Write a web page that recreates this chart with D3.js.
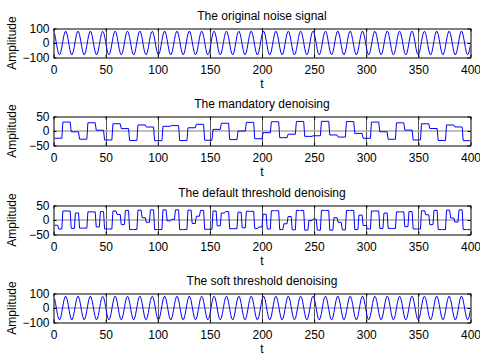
<!DOCTYPE html>
<html>
<head>
<meta charset="utf-8">
<script src="https://cdn.jsdelivr.net/npm/d3@7/dist/d3.min.js"></script>
<style>
  body { margin: 0; background: #fff; }
  text { font-family: "Liberation Sans", Arial, sans-serif; }
</style>
</head>
<body>
<div id="chart"></div>
<script>
const sampleCount = 400;
const xTicks = [0, 50, 100, 150, 200, 250, 300, 350, 400];
const panelTitles = [
  "The original noise signal",
  "The mandatory denoising",
  "The default threshold denoising",
  "The soft threshold denoising"
];
const wideTicks = [-100, 0, 100];
const narrowTicks = [-50, 0, 50];

// samples t = 1..400
const noisySignal = [
  65,31,-12,-51,-76,-81,-63,-28,14,53,77,80,
  61,26,-17,-55,-78,-80,-59,-23,20,57,79,79,
  57,20,-23,-59,-80,-78,-55,-17,26,61,80,77,
  53,14,-28,-63,-81,-76,-51,-12,31,65,81,75,
  49,9,-34,-67,-82,-74,-46,-6,36,68,82,73,
  44,3,-39,-70,-82,-71,-41,0,41,72,82,70,
  39,-3,-44,-73,-82,-68,-36,6,46,74,82,67,
  34,-9,-49,-75,-81,-65,-31,12,51,76,81,63,
  28,-14,-53,-77,-80,-61,-26,17,55,78,80,59,
  23,-20,-58,-79,-79,-57,-20,23,60,80,78,55,
  17,-26,-62,-80,-77,-53,-14,28,63,81,76,51,
  11,-31,-65,-81,-75,-49,-9,34,67,82,74,46,
  6,-36,-69,-82,-73,-44,-3,39,70,82,71,41,
  0,-42,-72,-82,-70,-39,3,44,73,82,68,36,
  -6,-46,-74,-82,-67,-34,9,49,75,81,65,31,
  -12,-51,-77,-81,-63,-28,15,53,78,80,61,25,
  -17,-56,-78,-80,-59,-23,20,58,79,79,57,20,
  -23,-60,-80,-78,-55,-17,26,62,81,77,53,14,
  -29,-63,-81,-76,-51,-11,31,65,81,75,48,8,
  -34,-67,-82,-74,-46,-6,37,69,82,73,44,3,
  -39,-70,-82,-71,-41,0,42,72,82,70,39,-3,
  -44,-73,-82,-68,-36,6,47,74,82,67,33,-9,
  -49,-75,-81,-65,-31,12,51,77,81,63,28,-15,
  -53,-78,-80,-61,-25,18,56,78,80,59,23,-20,
  -58,-79,-79,-57,-20,23,60,80,78,55,17,-26,
  -62,-81,-77,-53,-14,29,64,81,76,51,11,-31,
  -65,-81,-75,-48,-8,34,67,82,74,46,5,-37,
  -69,-82,-73,-44,-2,39,70,82,71,41,0,-42,
  -72,-82,-70,-39,3,44,73,82,68,36,-6,-47,
  -74,-82,-67,-33,9,49,76,81,65,31,-12,-51,
  -77,-81,-63,-28,15,54,78,80,61,25,-18,-56,
  -78,-80,-59,-22,21,58,79,79,57,20,-23,-60,
  -80,-78,-55,-17,26,62,81,77,53,14,-29,-64,
  -81,-76,-51,-11
];

// one value per block of 8 samples
const mandatoryBlocks = [
  -24.9, 30.9, -2.9, -28.3, 28.4, 2.8, -30.9, 25.0, 8.4, -32.5,
  20.9, 13.7, -33.3, 16.2, 18.7, -33.0, 11.1, 23.1, -31.8, 5.6,
  26.8, -29.7, -0.1, 29.8, -26.7, -5.7, 31.9, -23.0, -11.2, 33.0,
  -18.5, -16.4, 33.3, -13.6, -21.0, 32.5, -8.2, -25.1, 30.8, -2.6,
  -28.5, 28.2, 3.0, -31.0, 24.8, 8.6, -32.6, 20.7, 14.0, -33.3
];

// one value per block of 4 samples
const defaultHalves = [
  -18, -31, 31, 31, -29, 24, -28, -28, 28, 28,
  -24, 29, -31, -31, 31, 19, -16, 33, -33, -33,
  34, 8, -8, 35, -33, -33, 35, -3, 2, 35,
  -33, -33, 34, -12, 13, 33, -32, -32, 31, -20,
  24, 29, -30, -30, 27, -27, 30, 30, -29, -24,
  20, -31, 32, 32, -33, -13, 12, -34, 33, 33,
  -35, -2, 3, -35, 33, 33, -35, 8, -8, -34,
  33, 33, -33, 17, -19, -31, 31, 31, -29, 24,
  -29, -29, 28, 28, -23, 29, -31, -31, 32, 18,
  -16, 33, -33, -33, 34, 7, -7, 35, -33, -33
];

const softSignal = [
  65,31,-12,-51,-76,-81,-63,-28,14,53,77,80,
  61,26,-17,-55,-78,-80,-59,-23,20,57,79,79,
  57,20,-23,-59,-80,-78,-55,-17,26,61,80,77,
  53,14,-28,-63,-81,-76,-51,-12,31,65,81,75,
  49,9,-34,-67,-82,-74,-46,-6,36,68,82,73,
  44,3,-39,-70,-82,-71,-41,0,41,72,82,70,
  39,-3,-44,-73,-82,-68,-36,6,46,74,82,67,
  34,-9,-49,-75,-81,-65,-31,12,51,76,81,63,
  28,-14,-53,-77,-80,-61,-26,17,55,78,80,59,
  23,-20,-58,-79,-79,-57,-20,23,60,80,78,55,
  17,-26,-62,-80,-77,-53,-14,28,63,81,76,51,
  11,-31,-65,-81,-75,-49,-9,34,67,82,74,46,
  6,-36,-69,-82,-73,-44,-3,39,70,82,71,41,
  0,-42,-72,-82,-70,-39,3,44,73,82,68,36,
  -6,-46,-74,-82,-67,-34,9,49,75,81,65,31,
  -12,-51,-77,-81,-63,-28,15,53,78,80,61,25,
  -17,-56,-78,-80,-59,-23,20,58,79,79,57,20,
  -23,-60,-80,-78,-55,-17,26,62,81,77,53,14,
  -29,-63,-81,-76,-51,-11,31,65,81,75,48,8,
  -34,-67,-82,-74,-46,-6,37,69,82,73,44,3,
  -39,-70,-82,-71,-41,0,42,72,82,70,39,-3,
  -44,-73,-82,-68,-36,6,47,74,82,67,33,-9,
  -49,-75,-81,-65,-31,12,51,77,81,63,28,-15,
  -53,-78,-80,-61,-25,18,56,78,80,59,23,-20,
  -58,-79,-79,-57,-20,23,60,80,78,55,17,-26,
  -62,-81,-77,-53,-14,29,64,81,76,51,11,-31,
  -65,-81,-75,-48,-8,34,67,82,74,46,5,-37,
  -69,-82,-73,-44,-2,39,70,82,71,41,0,-42,
  -72,-82,-70,-39,3,44,73,82,68,36,-6,-47,
  -74,-82,-67,-33,9,49,76,81,65,31,-12,-51,
  -77,-81,-63,-28,15,54,78,80,61,25,-18,-56,
  -78,-80,-59,-22,21,58,79,79,57,20,-23,-60,
  -80,-78,-55,-17,26,62,81,77,53,14,-29,-64,
  -81,-76,-51,-11
];

const width = 480, height = 355;
const plotLeft = 53.5, plotRight = 470.5;
const panelTops = [28.5, 116.5, 205.5, 293.5];
const panelHeight = 29;

// turn the arrays into [t, value] points
const samplePoints = arr => arr.map((v, i) => [i + 1, v]);
const blockPoints = (arr, size) => arr.flatMap((v, k) => [[k * size + 1, v], [k * size + size, v]]);

const panels = [
  { title: panelTitles[0], ticks: wideTicks, points: samplePoints(noisySignal) },
  { title: panelTitles[1], ticks: narrowTicks, points: blockPoints(mandatoryBlocks, 8) },
  { title: panelTitles[2], ticks: narrowTicks, points: blockPoints(defaultHalves, 4) },
  { title: panelTitles[3], ticks: wideTicks, points: samplePoints(softSignal) }
];

const svg = d3.select("#chart").append("svg")
  .attr("width", width)
  .attr("height", height);

const x = d3.scaleLinear().domain([0, sampleCount]).range([plotLeft, plotRight]);

panels.forEach((p, i) => {
  const top = panelTops[i];
  const bottom = top + panelHeight;
  const y = d3.scaleLinear()
    .domain([p.ticks[0], p.ticks[p.ticks.length - 1]])
    .range([bottom, top]);

  const g = svg.append("g");

  svg.append("clipPath").attr("id", "clip" + i)
    .append("rect")
    .attr("x", plotLeft).attr("y", top)
    .attr("width", plotRight - plotLeft).attr("height", panelHeight);

  // vertical grid at the inner x ticks
  g.selectAll(".vgrid")
    .data(xTicks.slice(1, -1))
    .enter().append("line")
    .attr("x1", d => Math.round(x(d)) + 0.5).attr("x2", d => Math.round(x(d)) + 0.5)
    .attr("y1", top).attr("y2", bottom)
    .attr("stroke", "#555")
    .attr("stroke-width", 1);

  // zero line
  g.append("line")
    .attr("x1", plotLeft).attr("x2", plotRight)
    .attr("y1", y(0)).attr("y2", y(0))
    .attr("stroke", "#aaa")
    .attr("stroke-width", 1.5);

  const line = d3.line().x(d => x(d[0])).y(d => y(d[1]));
  g.append("path")
    .datum(p.points)
    .attr("clip-path", `url(#clip${i})`)
    .attr("fill", "none")
    .attr("stroke", "#0000ff")
    .attr("stroke-width", 1)
    .attr("d", line);

  // axes, ticks pointing inward
  const bottomAxis = d3.axisBottom(x).tickValues(xTicks).tickSizeInner(-3).tickSizeOuter(0).tickPadding(8);
  const topAxis = d3.axisTop(x).tickValues(xTicks).tickSizeInner(-3).tickSizeOuter(0).tickFormat("");
  const leftAxis = d3.axisLeft(y).tickValues(p.ticks).tickSizeInner(-3).tickSizeOuter(0).tickPadding(4);
  const rightAxis = d3.axisRight(y).tickValues(p.ticks).tickSizeInner(-3).tickSizeOuter(0).tickFormat("");

  const axes = [
    [bottomAxis, `translate(0,${bottom})`],
    [topAxis, `translate(0,${top})`],
    [leftAxis, `translate(${plotLeft},0)`],
    [rightAxis, `translate(${plotRight},0)`]
  ];
  axes.forEach(([ax, tr]) => {
    const a = g.append("g").attr("transform", tr).call(ax);
    a.selectAll("text")
      .attr("font-size", 12)
      .attr("font-family", '"Liberation Sans", Arial, sans-serif')
      .attr("fill", "#000");
    a.selectAll("line, path").attr("stroke", "#000");
  });

  // title
  g.append("text")
    .attr("x", (plotLeft + plotRight) / 2)
    .attr("y", top - 9)
    .attr("text-anchor", "middle")
    .attr("font-size", 12)
    .text(p.title);

  // x label
  g.append("text")
    .attr("x", (plotLeft + plotRight) / 2)
    .attr("y", bottom + 30)
    .attr("text-anchor", "middle")
    .attr("font-size", 12)
    .text("t");

  // y label
  g.append("text")
    .attr("transform", `translate(16,${(top + bottom) / 2}) rotate(-90)`)
    .attr("text-anchor", "middle")
    .attr("font-size", 12)
    .text("Amplitude");
});
</script>
</body>
</html>
